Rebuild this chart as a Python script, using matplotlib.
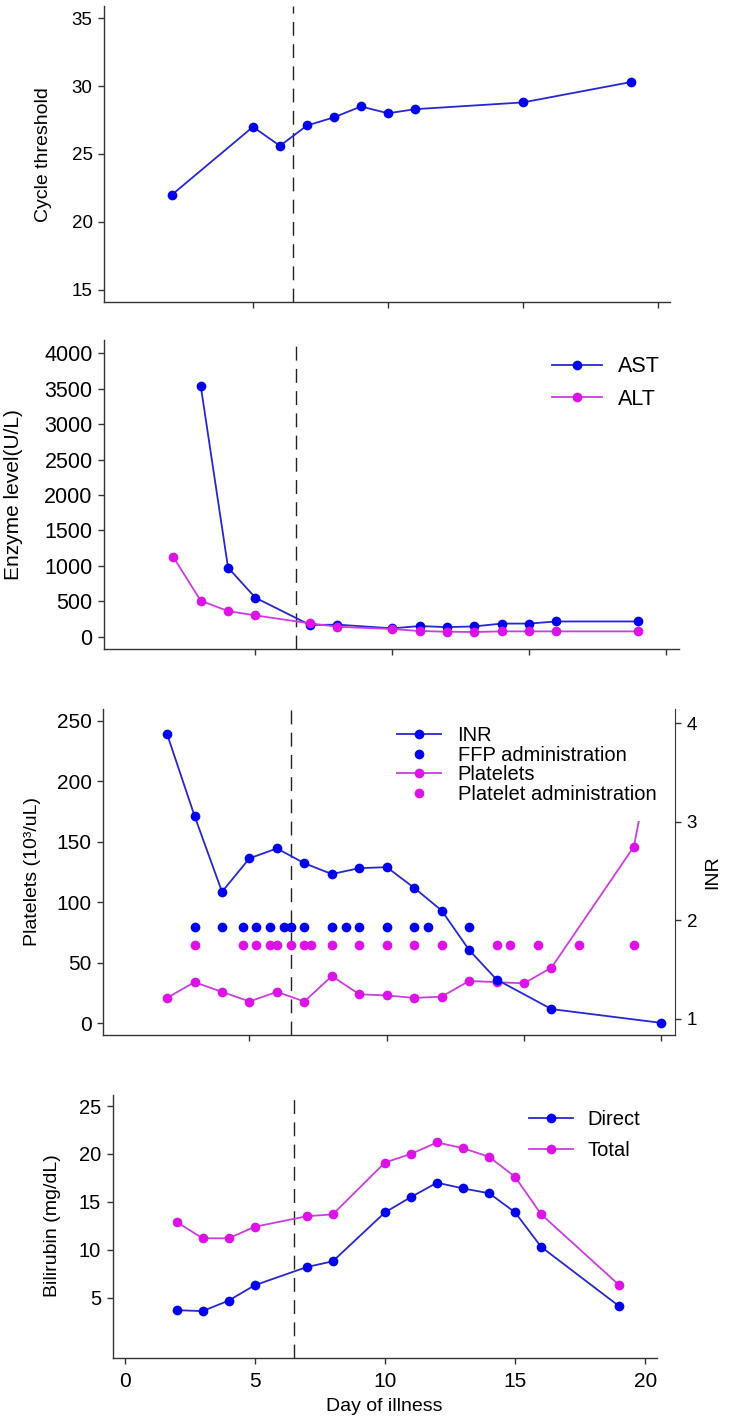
import numpy as np
import matplotlib
matplotlib.use("Agg")
import matplotlib.pyplot as plt

plt.rcParams["font.family"] = ["Liberation Sans", "DejaVu Sans"]

# panel 1 - cycle threshold
ct_days = [2, 5, 6, 7, 8, 9, 10, 11, 15, 19]
ct_vals = [22.0, 27.0, 25.6, 27.1, 27.7, 28.5, 28.0, 28.3, 28.8, 30.3]

# panel 2 - enzymes
ast_days = [3, 4, 5, 7, 8, 10, 11, 12, 13, 14, 15, 16, 19]
ast_vals = [3545, 975, 550, 165, 170, 118, 150, 135, 145, 185, 185, 215, 215]
alt_days = [2, 3, 4, 5, 7, 8, 10, 11, 12, 13, 14, 15, 16, 19]
alt_vals = [1125, 508, 362, 300, 188, 140, 108, 80, 70, 66, 75, 75, 75, 75]

# panel 3 - INR / platelets
inr_days = [2, 3, 4, 5, 6, 7, 8, 9, 10, 11, 12, 13, 14, 16, 20]
inr_vals = [3.89, 3.06, 2.29, 2.63, 2.73, 2.58, 2.47, 2.53, 2.54, 2.33, 2.10, 1.70, 1.40, 1.10, 0.96]
plt_days = [2, 3, 4, 5, 6, 7, 8, 9, 10, 11, 12, 13, 14, 15, 16, 19, 20]
plt_vals = [21, 34, 26, 18, 26, 18, 39, 24, 23, 21, 22, 35, 34, 33, 46, 146, 262]
ffp_days = [3, 4, 4.75, 5.25, 5.75, 6.25, 6.5, 7, 8, 8.5, 9, 10, 11, 11.5, 13]
ffp_level = 80
padm_days = [3, 4.75, 5.25, 5.75, 6, 6.5, 7, 7.25, 8, 9, 10, 11, 12, 14, 14.5, 15.5, 17, 19]
padm_level = 65

# panel 4 - bilirubin
bili_days = [2, 3, 4, 5, 7, 8, 10, 11, 12, 13, 14, 15, 16, 19]
direct = [3.7, 3.6, 4.7, 6.3, 8.2, 8.8, 13.9, 15.5, 17.0, 16.4, 15.9, 13.9, 10.3, 4.1]
total = [12.9, 11.2, 11.2, 12.4, 13.5, 13.7, 19.1, 20.0, 21.2, 20.6, 19.7, 17.6, 13.7, 6.3]

dose_day = 6.5

BLUE = "#0000ee"
BLUE_L = "#2626d2"
MAG = "#dd12e6"
MAG_L = "#cc3ce0"
AXC = "#333333"

W, H = 730, 1422
fig = plt.figure(figsize=(W / 100, H / 100), dpi=100)
fig.set_facecolor("white")


def rect(l, t, r, b):
    return [l / W, 1 - b / H, (r - l) / W, (b - t) / H]


def style(ax, fs, xlabels=False):
    for s in ["top", "right"]:
        ax.spines[s].set_visible(False)
    for s in ["left", "bottom"]:
        ax.spines[s].set_color(AXC)
        ax.spines[s].set_linewidth(1.0)
    ax.tick_params(direction="out", length=4.5, width=1.0, color=AXC,
                   labelsize=fs, pad=4)
    if not xlabels:
        ax.set_xticks([5, 10, 15, 20])
        ax.set_xticklabels([])
    ax.axvline(dose_day, color="#222222", lw=1.0, ls=(0, (10, 6)), zorder=1)


mk = dict(marker="o", markersize=7, markeredgewidth=0, lw=1.3)
dot = dict(ls="none", marker="o", markersize=7, markeredgewidth=0)

# ---- panel 1
ax1 = fig.add_axes(rect(104.4, 6, 670, 302))
ax1.plot(ct_days, ct_vals, color=BLUE_L, markerfacecolor=BLUE, **mk)
ax1.set_xlim(-0.5, 20.44)
ax1.set_ylim(14.1, 35.9)
ax1.set_yticks([15, 20, 25, 30, 35])
style(ax1, 13.5)
fig.text(43.5 / W, 1 - 154.5 / H, "Cycle threshold", rotation=90,
         ha="center", va="center", fontsize=14)

# ---- panel 2
ax2 = fig.add_axes(rect(104.4, 340, 679.4, 649.3))
ax2.plot(ast_days, ast_vals, color=BLUE_L, markerfacecolor=BLUE, label="AST", **mk)
ax2.plot(alt_days, alt_vals, color=MAG_L, markerfacecolor=MAG, label="ALT", **mk)
ax2.set_xlim(-0.52, 20.5)
ax2.set_ylim(-178, 4188)
ax2.set_yticks(np.arange(0, 4001, 500))
style(ax2, 15.5)
fig.text(14 / W, 1 - 495 / H, "Enzyme level(U/L)", rotation=90,
         ha="center", va="center", fontsize=15)
ax2.legend(loc="center left", bbox_to_anchor=(552 / W, 1 - 383 / H),
           bbox_transform=fig.transFigure, frameon=False, fontsize=15.5,
           borderpad=0, borderaxespad=0, handlelength=2.3, handletextpad=0.75,
           labelspacing=0.55)

# ---- panel 3
ax3 = fig.add_axes(rect(103.4, 709, 675, 1035))
ax3r = ax3.twinx()
ax3.plot(plt_days, plt_vals, color=MAG_L, markerfacecolor=MAG, **mk)
ax3.plot(ffp_days, [ffp_level] * len(ffp_days), color=BLUE, **dot)
ax3.plot(padm_days, [padm_level] * len(padm_days), color=MAG, **dot)
ax3r.plot(inr_days, inr_vals, color=BLUE_L, markerfacecolor=BLUE, **mk)
ax3.set_xlim(-0.32, 20.5)
ax3.set_ylim(-9.7, 259.9)
ax3.set_yticks(np.arange(0, 251, 50))
ax3r.set_ylim(0.837, 4.145)
ax3r.set_yticks([1, 2, 3, 4])
style(ax3, 15)
ax3r.spines["top"].set_visible(False)
ax3r.spines["left"].set_visible(False)
ax3r.spines["bottom"].set_visible(False)
ax3r.spines["right"].set_color(AXC)
ax3r.tick_params(direction="out", length=4.5, width=1.0, color=AXC,
                 labelsize=13.5, pad=4)
fig.text(33 / W, 1 - 871 / H, "Platelets (10³/uL)", rotation=90,
         ha="center", va="center", fontsize=14)
fig.text(713 / W, 1 - 872 / H, "INR", rotation=90,
         ha="center", va="center", fontsize=14)

h = [
    plt.Line2D([], [], color=BLUE_L, markerfacecolor=BLUE, **mk),
    plt.Line2D([], [], color=BLUE, **dot),
    plt.Line2D([], [], color=MAG_L, markerfacecolor=MAG, **mk),
    plt.Line2D([], [], color=MAG, **dot),
]
lab = ["INR", "FFP administration", "Platelets", "Platelet administration"]
leg_l, leg_t, leg_r, leg_b = 380, 709, 672, 820
leg3 = ax3r.legend(h, lab, loc="upper left", mode="expand",
                   bbox_to_anchor=(leg_l / W, 1 - leg_b / H, (leg_r - leg_l) / W, (leg_b - leg_t) / H),
                   bbox_transform=fig.transFigure, frameon=True, fontsize=14.5,
                   borderpad=0.85, handlelength=2.2, handletextpad=0.8,
                   labelspacing=0.03, fancybox=False, borderaxespad=0)
leg3.get_frame().set_facecolor("white")
leg3.get_frame().set_edgecolor("none")
leg3.get_frame().set_alpha(1)

# ---- panel 4
ax4 = fig.add_axes(rect(112.8, 1095, 656.8, 1357.7))
ax4.plot(bili_days, direct, color=BLUE_L, markerfacecolor=BLUE, label="Direct", **mk)
ax4.plot(bili_days, total, color=MAG_L, markerfacecolor=MAG, label="Total", **mk)
ax4.set_xlim(-0.45, 20.44)
ax4.set_ylim(-1.26, 26.15)
ax4.set_yticks([5, 10, 15, 20, 25])
style(ax4, 14.5, xlabels=True)
ax4.set_xticks([0, 5, 10, 15, 20])
ax4.tick_params(axis="x", labelsize=15, pad=6)
fig.text(53 / W, 1 - 1226 / H, "Bilirubin (mg/dL)", rotation=90,
         ha="center", va="center", fontsize=14)
fig.text(384.6 / W, 1 - 1406.7 / H, "Day of illness",
         ha="center", va="center", fontsize=14)
ax4.legend(loc="center left", bbox_to_anchor=(529 / W, 1 - 1135.4 / H),
           bbox_transform=fig.transFigure, frameon=False, fontsize=14.5,
           borderpad=0, borderaxespad=0, handlelength=2.2, handletextpad=0.7,
           labelspacing=0.6)

fig.savefig("out.png", dpi=100, facecolor="white")
